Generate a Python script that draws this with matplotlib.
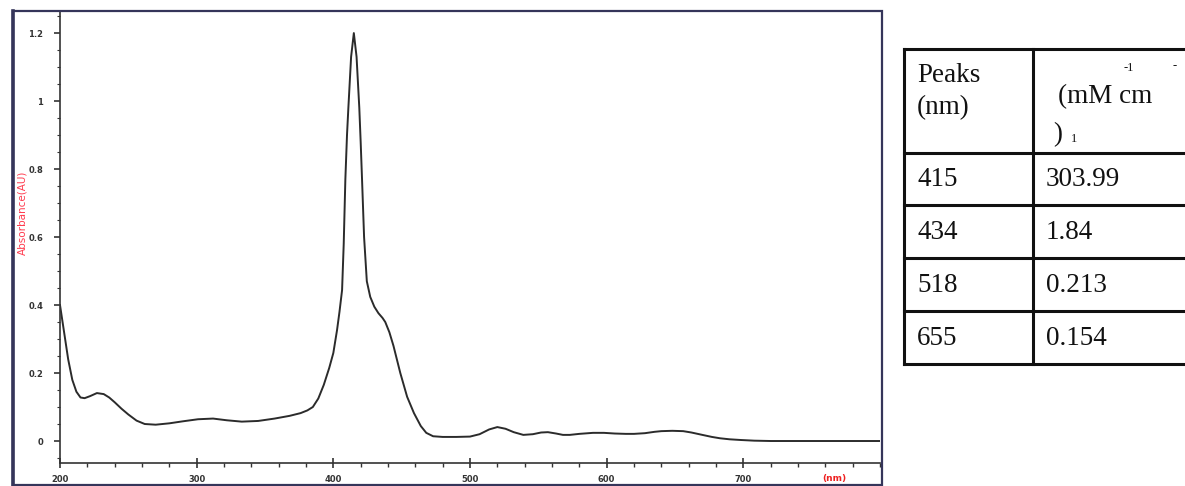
import numpy as np
import matplotlib
matplotlib.use("Agg")
import matplotlib.pyplot as plt
from matplotlib.patches import Rectangle
from matplotlib.ticker import MultipleLocator

# UV-Vis absorption spectrum (wavelength in nm, absorbance in AU)
wavelength = [200, 203, 206, 209, 212, 215, 218, 222, 227, 232, 236, 240, 245, 250,
              256, 262, 270, 280, 290, 301, 312, 322, 333, 345, 357, 368, 376, 381,
              385, 389, 393, 397, 400, 402.7, 404.5, 406.4, 407.6, 408.8, 410, 411,
              413, 415, 417, 419, 420, 421, 422.5, 424.5, 427, 430, 433, 436, 438,
              441, 444, 449, 454, 459, 464, 468, 473, 480, 490, 500, 507, 514, 520,
              526, 532, 539, 546, 552, 557, 563, 568, 573, 580, 590, 598, 606, 614,
              620, 628, 635, 640, 648, 656, 662, 670, 677, 683, 690, 698, 708, 720,
              740, 760, 780, 800]
absorbance = [0.40, 0.32, 0.24, 0.18, 0.145, 0.128, 0.126, 0.132, 0.141, 0.138, 0.128,
              0.114, 0.095, 0.078, 0.060, 0.050, 0.048, 0.052, 0.058, 0.064, 0.066,
              0.061, 0.057, 0.059, 0.066, 0.074, 0.082, 0.090, 0.100, 0.125, 0.165,
              0.215, 0.259, 0.326, 0.380, 0.444, 0.580, 0.770, 0.900, 0.980,
              1.130, 1.200, 1.130, 0.980, 0.880, 0.770, 0.600, 0.470, 0.424, 0.395,
              0.376, 0.362, 0.350, 0.320, 0.280, 0.200, 0.130, 0.082, 0.044, 0.024,
              0.014, 0.012, 0.012, 0.013, 0.020, 0.034, 0.041, 0.036, 0.026, 0.018,
              0.020, 0.025, 0.026, 0.022, 0.018, 0.018, 0.021, 0.024, 0.024, 0.022,
              0.021, 0.021, 0.023, 0.027, 0.029, 0.030, 0.029, 0.025, 0.018, 0.012,
              0.008, 0.005, 0.003, 0.001, 0.0, 0.0, 0.0, 0.0, 0.0]

x_ticks = [200, 300, 400, 500, 600, 700]
x_tick_labels = ["200", "300", "400", "500", "600", "700"]
y_ticks = [0.0, 0.2, 0.4, 0.6, 0.8, 1.0, 1.2]
y_tick_labels = ["0", "0.2", "0.4", "0.6", "0.8", "1", "1.2"]

peaks_nm = ["415", "434", "518", "655"]
epsilon = ["303.99", "1.84", "0.213", "0.154"]

W, H = 1185, 486
fig = plt.figure(figsize=(W / 100, H / 100), dpi=100)
fig.patch.set_facecolor("white")

def fx(px):
    return px / W

def fy(py):
    return 1 - py / H

# Outer frame around the spectrum panel
frame_col = "#35355a"
fig.add_artist(Rectangle((fx(13), fy(485)), fx(882) - fx(13), fy(11) - fy(485),
                         transform=fig.transFigure, fill=False,
                         edgecolor=frame_col, linewidth=1.6))
fig.add_artist(plt.Line2D([fx(13), fx(13)], [fy(11), fy(486)],
                          transform=fig.transFigure, color=frame_col, linewidth=2.6))

ax = fig.add_axes([fx(60), fy(463), fx(880) - fx(60), fy(12) - fy(463)])
ax.plot(wavelength, absorbance, color="#2b2b2b", linewidth=1.4)
ax.set_xlim(200, 800)
ax.set_ylim(-0.0647, 1.262)
ax.patch.set_alpha(0)
for side in ("top", "right"):
    ax.spines[side].set_visible(False)
for side in ("left", "bottom"):
    ax.spines[side].set_color("#333333")
    ax.spines[side].set_linewidth(1.2)

ax.set_xticks(x_ticks)
ax.set_xticklabels(x_tick_labels, fontsize=6, fontweight="bold", color="#333333")
ax.xaxis.set_minor_locator(MultipleLocator(20))
ax.set_yticks(y_ticks)
ax.set_yticklabels(y_tick_labels, fontsize=6, fontweight="bold", color="#333333")
ax.yaxis.set_minor_locator(MultipleLocator(0.05))
ax.tick_params(axis="x", which="major", direction="inout", length=7, width=1.2,
               color="#333333", pad=5)
ax.tick_params(axis="x", which="minor", direction="out", length=3, width=1.0,
               color="#333333")
ax.tick_params(axis="y", which="major", direction="out", length=4, width=1.2,
               color="#333333", pad=8)
ax.tick_params(axis="y", which="minor", direction="out", length=2, width=0.8,
               color="#333333")

fig.text(fx(22), fy(213), "Absorbance(AU)", color="#ff3b4e", fontsize=7.5,
         rotation=90, ha="center", va="center")
fig.text(fx(834), fy(478), "(nm)", color="#ee2020", fontsize=6.5,
         fontweight="bold", ha="center", va="center")

# Table of peak positions and extinction coefficients
serif = "Liberation Serif"
tcol = "#111111"
fs = 19.5
col_x = [904, 1033, 1190]
row_y = [49, 153, 205, 258, 311, 364]
for y in row_y:
    fig.add_artist(plt.Line2D([fx(col_x[0]), fx(col_x[2])], [fy(y), fy(y)],
                              transform=fig.transFigure, color=tcol, linewidth=2.2))
for x in col_x[:2]:
    fig.add_artist(plt.Line2D([fx(x), fx(x)], [fy(row_y[0]), fy(row_y[-1])],
                              transform=fig.transFigure, color=tcol, linewidth=2.2))

fig.text(fx(917), fy(75), "Peaks", family=serif, fontsize=fs,
         ha="left", va="center", color=tcol)
fig.text(fx(917), fy(108), "(nm)", family=serif, fontsize=fs,
         ha="left", va="center", color=tcol)
fig.text(fx(1058), fy(97), "(mM cm", family=serif, fontsize=fs,
         ha="left", va="center", color=tcol)
fig.text(fx(1124), fy(68), "-1", family=serif, fontsize=9,
         ha="left", va="center", color=tcol)
fig.text(fx(1173), fy(66), "-", family=serif, fontsize=9,
         ha="left", va="center", color=tcol)
fig.text(fx(1053), fy(135), ")", family=serif, fontsize=fs,
         ha="left", va="center", color=tcol)
fig.text(fx(1071), fy(139), "1", family=serif, fontsize=9,
         ha="left", va="center", color=tcol)

for i, (p, e) in enumerate(zip(peaks_nm, epsilon)):
    yc = (row_y[i + 1] + row_y[i + 2]) / 2 + 1
    fig.text(fx(917), fy(yc), p, family=serif, fontsize=fs,
             ha="left", va="center", color=tcol)
    fig.text(fx(1046), fy(yc), e, family=serif, fontsize=fs,
             ha="left", va="center", color=tcol)

fig.savefig("out.png", dpi=100)
